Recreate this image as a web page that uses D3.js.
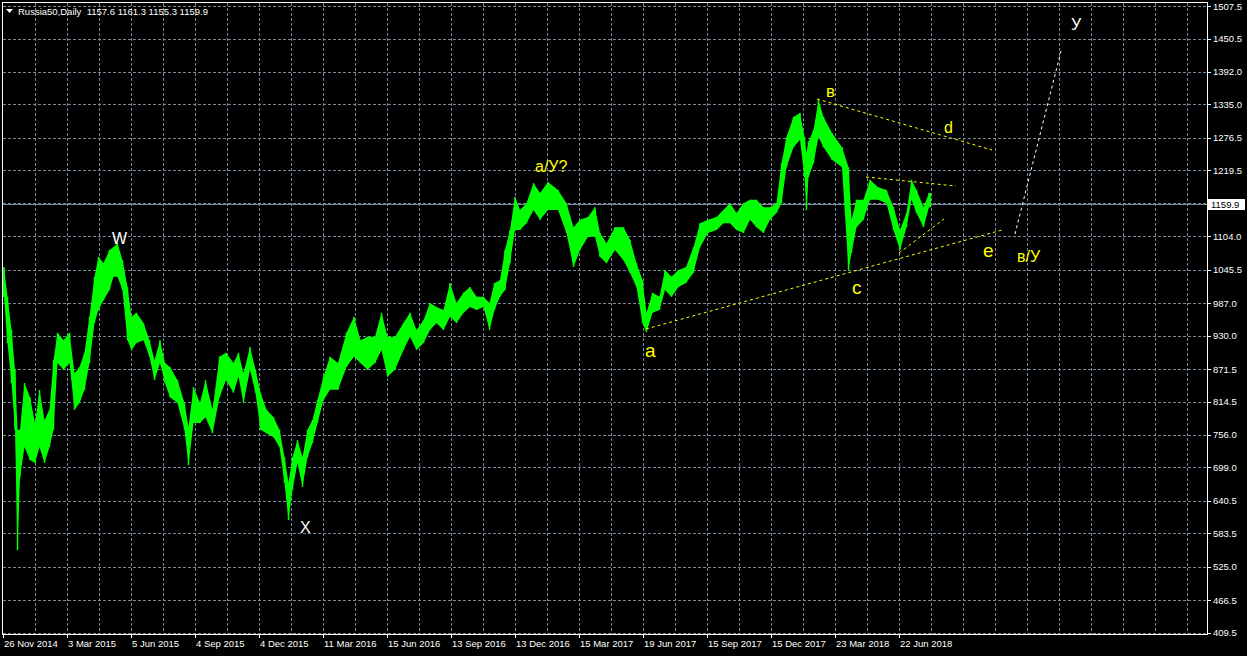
<!DOCTYPE html>
<html><head><meta charset="utf-8">
<script src="https://cdn.jsdelivr.net/npm/d3@7"></script>
<style>
html,body{margin:0;padding:0;background:#000;overflow:hidden;}
svg{display:block;}
</style></head><body>
<svg id="chart" width="1247" height="656"></svg>
<script>
// ---------- data ----------
const symbolTitle = "Russia50,Daily";
const lastOHLC = [1157.6, 1161.3, 1155.3, 1159.9];
const lastPrice = 1159.9;

const priceTicks = [1507.5, 1450.5, 1392.0, 1335.0, 1276.5, 1219.5, 1162.0, 1104.0, 1045.5, 987.0,
  930.0, 871.5, 814.5, 756.0, 699.0, 640.5, 583.5, 525.0, 466.5, 409.5];
const priceTickLabels = ["1507.5","1450.5","1392.0","1335.0","1276.5","1219.5","","1104.0","1045.5","987.0",
  "930.0","871.5","814.5","756.0","699.0","640.5","583.5","525.0","466.5","409.5"];

const dateTickIdx = [0, 64, 128, 192, 256, 320, 384, 448, 512, 576, 640, 704, 768, 832, 896];
const dateTickLabels = ["26 Nov 2014","3 Mar 2015","5 Jun 2015","4 Sep 2015","4 Dec 2015","11 Mar 2016",
  "15 Jun 2016","13 Sep 2016","13 Dec 2016","15 Mar 2017","19 Jun 2017","15 Sep 2017","15 Dec 2017",
  "23 Mar 2018","22 Jun 2018"];

// price segments: start bar index, high, low
const segStart = [0,2,7,10,14,15,19,24,30,34,39,44,49,52,57,64,69,74,79,84,89,94,97,104,109,112,117,122,127,130,
  137,144,149,154,160,164,170,179,184,187,194,200,205,214,219,227,234,237,244,250,255,260,267,274,279,284,287,292,297,302,
  307,312,317,324,330,340,347,355,360,369,375,382,387,397,404,410,417,424,430,437,444,450,457,464,470,477,484,489,494,500,
  504,510,514,520,527,534,540,550,560,567,574,580,590,594,600,607,617,624,630,637,642,645,654,659,665,672,679,687,694,700,
  710,717,724,730,737,744,750,757,764,770,777,780,787,794,800,803,804,807,814,817,824,834,844,847,850,857,864,870,880,887,
  894,900,907,910,917,924];
const segHigh = [1050,998,940,870,765,765,847,822,777,835,782,800,887,935,922,935,864,875,900,963,1033,1068,1057,1080,1085,1092,1062,1015,963,970,
  952,922,887,922,882,875,852,812,770,840,812,852,800,893,900,882,900,864,910,870,830,800,787,765,717,672,717,747,717,765,
  782,817,858,893,882,935,963,922,928,928,970,928,928,952,970,940,957,987,980,975,1022,987,1005,1015,998,998,987,1022,1027,1080,
  1115,1173,1150,1162,1197,1180,1199,1185,1162,1120,1133,1138,1155,1110,1092,1120,1120,1098,1057,1027,970,1005,998,1045,1033,1045,1050,1085,1127,1133,
  1138,1150,1162,1145,1162,1168,1168,1155,1155,1162,1232,1278,1313,1320,1278,1250,1270,1290,1343,1313,1285,1260,1225,1133,1168,1168,1203,1190,1185,1155,
  1115,1145,1203,1185,1155,1180];
const segLow = [998,917,847,765,554,682,735,712,707,735,707,735,765,882,870,882,800,812,835,882,952,975,992,1010,1033,1033,1010,922,905,917,
  922,893,852,882,847,822,812,765,703,777,777,787,759,822,852,830,858,812,870,830,765,759,752,735,672,607,660,707,665,717,
  742,777,817,835,835,875,893,882,870,882,905,858,870,905,928,905,917,940,952,940,963,952,970,980,975,980,940,975,998,1010,
  1057,1115,1115,1127,1150,1133,1150,1150,1110,1050,1080,1103,1103,1068,1057,1080,1062,1040,1015,952,936,970,975,1010,998,1015,1022,1040,1085,1110,
  1115,1127,1127,1115,1110,1133,1120,1110,1133,1145,1162,1225,1260,1273,1208,1150,1208,1232,1278,1260,1238,1225,1045,1075,1120,1133,1168,1168,1162,1115,
  1080,1120,1168,1145,1120,1155];
const lastBarIdx = 927;

// wave-count annotations: text, bar index, price, colour, font size
const waveText  = ["W", "X", "а/У?", "а", "в", "с", "d", "e", "в/У", "У"];
const waveIdx   = [109, 297, 532, 642, 823, 849, 941, 980, 1014, 1068];
const wavePrice = [1090.5, 584.2, 1216.7, 892.5, 1348.1, 1002.9, 1285.0, 1067.7, 1059.0, 1465.4];
const waveColor = ["#ffffff","#ffffff","#ffff00","#ffff00","#ffff00","#ffff00","#ffff00","#ffff00","#ffff00","#ffffff"];
const waveSize  = [16, 16, 16, 19, 17, 19, 16, 19, 16, 16];

// trend lines: [idx1, price1, idx2, price2]
const trendLines = [
  [643, 941.6, 999, 1115.0],
  [814, 1344.6, 989, 1255.2],
  [863, 1207.9, 953, 1192.1],
  [896, 1074.7, 941, 1134.3]
];
const trendColor = "#ffff00";
const projection = [1012, 1108.0, 1058, 1428.6];

// ---------- drawing ----------
const W = 1247, H = 656;
const L = 3, R = 1207, T = 3, B = 634;
const svg = d3.select("#chart");
const FONT = "'Liberation Sans', Arial, sans-serif";
const GRID = "#778899";

svg.append("rect").attr("width", W).attr("height", H).attr("fill", "#000");

const x = d3.scaleLinear().domain([0, R - L]).range([L, R]);
const y = d3.scaleLinear().domain([409.5, 1507.5]).range([632.7, 6]);

// grid
const gGrid = svg.append("g").attr("shape-rendering", "crispEdges");
const vGrid = d3.range(32, R - L, 32);
gGrid.selectAll("line.v").data(vGrid).join("line")
  .attr("x1", d => Math.round(x(d)) + 0.5).attr("x2", d => Math.round(x(d)) + 0.5)
  .attr("y1", T).attr("y2", B)
  .attr("stroke", GRID).attr("stroke-dasharray", "3,2");
gGrid.selectAll("line.h").data(priceTicks).join("line")
  .attr("x1", L).attr("x2", R)
  .attr("y1", d => Math.round(y(d)) + 0.5).attr("y2", d => Math.round(y(d)) + 0.5)
  .attr("stroke", GRID).attr("stroke-dasharray", "3,2");

// current price line
svg.append("line").attr("shape-rendering", "crispEdges")
  .attr("x1", L).attr("x2", R)
  .attr("y1", Math.round(y(lastPrice)) + 0.5).attr("y2", Math.round(y(lastPrice)) + 0.5)
  .attr("stroke", GRID);

// price bars: band through each segment's centre, plus thin high-low spikes
const pts = segStart.map((s, i) => {
  const e = i < segStart.length - 1 ? segStart[i + 1] : lastBarIdx + 1;
  return {s: s, e: e, m: (s + e) / 2, h: segHigh[i], l: segLow[i]};
});
const band = [{m: pts[0].s, h: pts[0].h, l: pts[0].l}, ...pts,
  {m: lastBarIdx + 1, h: pts[pts.length - 1].h, l: pts[pts.length - 1].l}];
const area = d3.area().x(d => x(d.m)).y0(d => y(d.l)).y1(d => y(d.h)).curve(d3.curveLinear);
svg.append("path").datum(band).attr("d", area).attr("fill", "#00ff00");
svg.selectAll("line.bar").data(pts).join("line")
  .attr("x1", d => x(d.m)).attr("x2", d => x(d.m))
  .attr("y1", d => y(d.h)).attr("y2", d => y(d.l))
  .attr("stroke", "#00ff00").attr("stroke-width", 1.5);

// trend lines
svg.selectAll("line.trend").data(trendLines).join("line")
  .attr("x1", d => x(d[0])).attr("y1", d => y(d[1]))
  .attr("x2", d => x(d[2])).attr("y2", d => y(d[3]))
  .attr("stroke", trendColor).attr("stroke-width", 1).attr("stroke-dasharray", "3,3");
svg.append("line")
  .attr("x1", x(projection[0])).attr("y1", y(projection[1]))
  .attr("x2", x(projection[2])).attr("y2", y(projection[3]))
  .attr("stroke", "#ffffff").attr("stroke-width", 1).attr("stroke-dasharray", "3,3");

// wave labels
svg.selectAll("text.wave").data(waveText).join("text")
  .attr("x", (d, i) => x(waveIdx[i])).attr("y", (d, i) => y(wavePrice[i]))
  .attr("fill", (d, i) => waveColor[i]).attr("font-size", (d, i) => waveSize[i])
  .attr("font-family", FONT).text(d => d);

// frame
svg.append("rect").attr("x", L - 0.5).attr("y", T - 0.5).attr("width", R - L + 1).attr("height", B - T + 1)
  .attr("fill", "none").attr("stroke", "#fff").attr("shape-rendering", "crispEdges");

// right axis
const gR = svg.append("g");
gR.selectAll("line").data(priceTicks).join("line").attr("shape-rendering", "crispEdges")
  .attr("x1", R).attr("x2", R + 4)
  .attr("y1", d => Math.round(y(d)) + 0.5).attr("y2", d => Math.round(y(d)) + 0.5)
  .attr("stroke", "#fff");
gR.selectAll("text").data(priceTicks).join("text")
  .attr("x", 1213).attr("y", d => y(d) + 3.5)
  .attr("fill", "#fff").attr("font-size", 9.5).attr("font-family", FONT)
  .text((d, i) => priceTickLabels[i]);

// current price box
const yp = y(lastPrice);
svg.append("rect").attr("x", 1208).attr("y", Math.round(yp) - 5).attr("width", 37).attr("height", 11)
  .attr("fill", "#fff");
svg.append("text").attr("x", 1211).attr("y", yp + 3.5).attr("fill", "#000")
  .attr("font-size", 9.5).attr("font-family", FONT).text(lastPrice.toFixed(1));

// bottom axis
const gB = svg.append("g");
gB.selectAll("line").data(dateTickIdx).join("line").attr("shape-rendering", "crispEdges")
  .attr("x1", d => Math.round(x(d)) + 0.5).attr("x2", d => Math.round(x(d)) + 0.5)
  .attr("y1", B).attr("y2", B + 4).attr("stroke", "#fff");
gB.selectAll("text").data(dateTickIdx).join("text")
  .attr("x", d => x(d) + 1).attr("y", 647)
  .attr("fill", "#fff").attr("font-size", 9.5).attr("font-family", FONT)
  .text((d, i) => dateTickLabels[i]);

// title
svg.append("path").attr("d", "M6,9 L13,9 L9.5,13 Z").attr("fill", "#fff");
svg.append("text").attr("x", 18).attr("y", 15).attr("fill", "#fff")
  .attr("font-size", 9.5).attr("font-family", FONT).attr("xml:space", "preserve")
  .text(symbolTitle + "  " + lastOHLC.map(v => v.toFixed(1)).join(" "));
</script>
</body></html>
